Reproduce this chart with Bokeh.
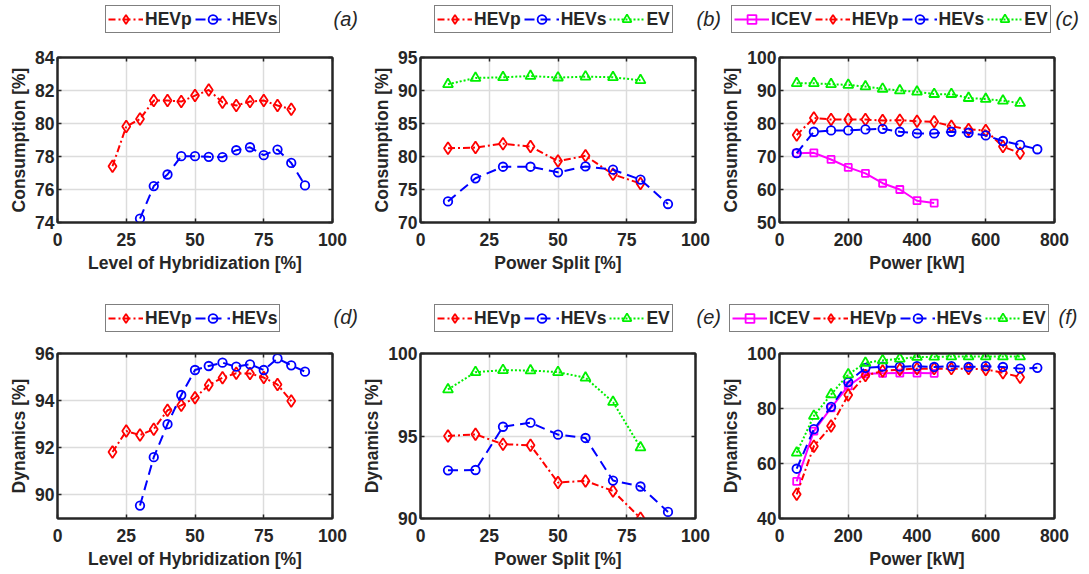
from bokeh.plotting import figure
from bokeh.models import Legend, LegendItem, Label, FixedTicker, Range1d, LinearAxis
from bokeh.layouts import row, column
from bokeh.embed import file_html
from bokeh.resources import INLINE

# ---------------- data ----------------
lh_x_hevp = [20, 25, 30, 35, 40, 45, 50, 55, 60, 65, 70, 75, 80, 85]
lh_x_hevs = [30, 35, 40, 45, 50, 55, 60, 65, 70, 75, 80, 85, 90]
ps_x_hevp = [10, 20, 30, 40, 50, 60, 70, 80]
ps_x_hevs = [10, 20, 30, 40, 50, 60, 70, 80, 90]
ps_x_ev = [10, 20, 30, 40, 50, 60, 70, 80]
pw_x_icev = [50, 100, 150, 200, 250, 300, 350, 400, 450]
pw_x_hevp = [50, 100, 150, 200, 250, 300, 350, 400, 450, 500, 550, 600, 650, 700]
pw_x_hevs = [50, 100, 150, 200, 250, 300, 350, 400, 450, 500, 550, 600, 650, 700, 750]
pw_x_ev = [50, 100, 150, 200, 250, 300, 350, 400, 450, 500, 550, 600, 650, 700]

cons_lh_hevp = [77.41, 79.82, 80.27, 81.39, 81.39, 81.33, 81.69, 82.03, 81.29, 81.09, 81.33, 81.39, 81.09, 80.87]
cons_lh_hevs = [74.24, 76.21, 76.91, 78.02, 78.02, 77.98, 77.96, 78.38, 78.56, 78.08, 78.42, 77.61, 76.25]
cons_ps_hevp = [81.25, 81.35, 81.95, 81.5, 79.3, 80.1, 77.3, 75.9]
cons_ps_hevs = [73.2, 76.7, 78.45, 78.45, 77.6, 78.5, 78.0, 76.5, 72.8]
cons_ps_ev = [90.95, 91.9, 92.0, 92.2, 91.95, 92.1, 92.0, 91.55]
cons_pw_icev = [71.0, 71.1, 69.1, 66.7, 64.9, 61.9, 60.0, 56.6, 55.9]
cons_pw_hevp = [76.5, 81.7, 81.2, 81.2, 81.2, 80.9, 81.0, 80.7, 80.5, 79.2, 78.2, 77.9, 73.0, 71.0]
cons_pw_hevs = [71.0, 77.5, 77.9, 77.9, 78.2, 78.4, 77.5, 77.0, 77.0, 77.5, 77.2, 76.4, 74.7, 73.5, 72.2]
cons_pw_ev = [92.2, 92.2, 91.9, 91.7, 91.2, 90.5, 90.0, 89.6, 88.9, 88.9, 87.7, 87.4, 86.9, 86.2]

dyn_lh_hevp = [91.82, 92.71, 92.54, 92.79, 93.59, 93.80, 94.12, 94.66, 94.97, 95.16, 95.15, 94.98, 94.68, 93.98]
dyn_lh_hevs = [89.55, 91.6, 93.0, 94.24, 95.30, 95.47, 95.61, 95.44, 95.54, 95.30, 95.79, 95.50, 95.23]
dyn_ps_hevp = [95.0, 95.1, 94.5, 94.44, 92.18, 92.28, 91.67, 90.02]
dyn_ps_hevs = [92.92, 92.94, 95.56, 95.81, 95.08, 94.88, 92.3, 91.94, 90.4]
dyn_ps_ev = [97.82, 98.87, 98.99, 98.97, 98.87, 98.53, 97.06, 94.3]
dyn_pw_icev = [53.5, 71.8, 80.2, 88.2, 92.6, 92.8, 92.9, 92.9, 92.8]
dyn_pw_hevp = [48.8, 66.3, 73.6, 84.9, 92.0, 93.6, 94.2, 94.5, 94.5, 94.5, 94.5, 94.2, 93.0, 91.4]
dyn_pw_hevs = [58.1, 72.5, 80.6, 89.6, 94.8, 95.2, 95.2, 95.4, 95.1, 95.4, 95.1, 95.4, 95.1, 94.5, 94.8]
dyn_pw_ev = [63.9, 77.3, 85.1, 92.4, 96.6, 97.5, 98.1, 98.7, 98.8, 98.9, 98.9, 98.9, 98.9, 98.9]

ticks_pct = [0, 25, 50, 75, 100]
ticks_pw = [0, 200, 400, 600, 800]

# ---------------- styles ----------------
STY = {
    "ICEV": dict(color="#ff00ff", dash="solid", marker="square", size=7),
    "HEVp": dict(color="#ff0000", dash="7 3 2 3", marker="diamond", size=12),
    "HEVs": dict(color="#0000ff", dash="10 6", marker="circle", size=8.5),
    "EV": dict(color="#00f000", dash="2 2", marker="triangle", size=10),
}
FONT = "Liberation Sans"
TXT = "#262626"
FS = "17.5px"
TOTAL_W = 1085


def add_series(p, name, xs, ys):
    s = STY[name]
    lr = p.line(xs, ys, line_color=s["color"], line_width=2, line_dash=s["dash"])
    sr = p.scatter(xs, ys, marker=s["marker"], size=s["size"], fill_color=None,
                   line_color=s["color"], line_width=1.8)
    return lr, sr


def style_axis(ax):
    ax.axis_line_color = TXT
    ax.axis_line_width = 2
    ax.major_tick_in = 4
    ax.major_tick_out = 0
    ax.minor_tick_line_color = None
    ax.major_tick_line_color = TXT
    ax.major_tick_line_width = 1.5
    ax.major_label_text_font = FONT
    ax.major_label_text_font_size = FS
    ax.major_label_text_font_style = "bold"
    ax.major_label_text_color = TXT
    ax.axis_label_text_font = FONT
    ax.axis_label_text_font_size = FS
    ax.axis_label_text_font_style = "bold"
    ax.axis_label_text_color = TXT


def panel(xr, yr, xt, yt, xlabel, ylabel, series, borders):
    l, r, t, b = borders
    p = figure(frame_width=275, frame_height=165,
               x_range=Range1d(*xr), y_range=Range1d(*yr),
               output_backend="svg", toolbar_location=None,
               min_border_left=l, min_border_right=r,
               min_border_top=t, min_border_bottom=b,
               background_fill_color="white", border_fill_color="white")
    p.outline_line_color = TXT
    p.outline_line_width = 2
    p.xaxis.ticker = FixedTicker(ticks=xt)
    p.yaxis.ticker = FixedTicker(ticks=yt)
    for ax in (p.xaxis, p.yaxis):
        style_axis(ax)
    p.xaxis.axis_label = xlabel
    p.yaxis.axis_label = ylabel
    p.xaxis.major_label_standoff = 10
    p.xaxis.axis_label_standoff = 4
    p.yaxis.major_label_standoff = 3
    p.yaxis.axis_label_standoff = 3
    # inward box ticks on the top and right sides (labels not drawn)
    top = LinearAxis(ticker=FixedTicker(ticks=xt))
    right = LinearAxis(ticker=FixedTicker(ticks=yt))
    for ax in (top, right):
        style_axis(ax)
        ax.major_label_text_color = None
        ax.major_label_text_font_size = "1px"
        ax.major_label_standoff = 0
    p.add_layout(top, "above")
    p.add_layout(right, "right")
    p.grid.grid_line_color = "#dcdcdc"
    p.grid.grid_line_width = 1.5
    for name, xs, ys in series:
        add_series(p, name, xs, ys)
    return p


def header(height, legends, tags):
    """A strip above a row of panels that holds the legend boxes and panel tags."""
    h = figure(frame_width=TOTAL_W, frame_height=height,
               x_range=Range1d(0, 1), y_range=Range1d(0, 1),
               x_axis_location=None, y_axis_location=None,
               output_backend="svg", toolbar_location=None,
               min_border=0, outline_line_color=None,
               background_fill_color="white", border_fill_color="white")
    h.grid.visible = False
    rend = {}
    for name in STY:
        # legend proxies: points lie outside the visible range
        rend[name] = add_series(h, name, [-10, -9], [-10, -9])
    for names, loc in legends:
        items = [LegendItem(label=n, renderers=list(rend[n])) for n in names]
        leg = Legend(items=items, location=loc, orientation="horizontal",
                     padding=2, spacing=3, margin=0, label_standoff=2,
                     glyph_width=35, glyph_height=22, label_height=22,
                     label_text_font=FONT, label_text_font_size=FS,
                     label_text_font_style="bold", label_text_color=TXT,
                     border_line_color="black", border_line_width=1.5,
                     background_fill_color="white", background_fill_alpha=1.0)
        h.add_layout(leg)
    for text, (x, y) in tags:
        h.add_layout(Label(x=x, y=y, x_units="screen", y_units="screen", text=text,
                           text_font=FONT, text_font_size="20px", text_font_style="italic",
                           text_color=TXT, text_baseline="middle"))
    return h


two = ["HEVp", "HEVs"]
three = ["HEVp", "HEVs", "EV"]
four = ["ICEV", "HEVp", "HEVs", "EV"]

h1 = header(48, [(two, (105, 15)), (three, (434, 15)), (four, (731, 15))],
            [("(a)", (333, 30)), ("(b)", (696, 30)), ("(c)", (1055, 30))])
h2 = header(52, [(two, (105, 13)), (three, (434, 13)), (four, (729, 13))],
            [("(d)", (333, 29)), ("(e)", (696, 29)), ("(f)", (1058, 29))])

pa = panel((0, 100), (74, 84), ticks_pct, [74, 76, 78, 80, 82, 84],
           "Level of Hybridization [%]", "Consumption [%]",
           [("HEVp", lh_x_hevp, cons_lh_hevp), ("HEVs", lh_x_hevs, cons_lh_hevs)],
           (57, 32, 9, 71))
pb = panel((0, 100), (70, 95), ticks_pct, [70, 75, 80, 85, 90, 95],
           "Power Split [%]", "Consumption [%]",
           [("HEVp", ps_x_hevp, cons_ps_hevp), ("HEVs", ps_x_hevs, cons_ps_hevs),
            ("EV", ps_x_ev, cons_ps_ev)],
           (56, 19, 9, 71))
pc = panel((0, 800), (50, 100), ticks_pw, [50, 60, 70, 80, 90, 100],
           "Power [kW]", "Consumption [%]",
           [("ICEV", pw_x_icev, cons_pw_icev), ("HEVp", pw_x_hevp, cons_pw_hevp),
            ("HEVs", pw_x_hevs, cons_pw_hevs), ("EV", pw_x_ev, cons_pw_ev)],
           (65, 31, 9, 71))
pd = panel((0, 100), (89, 96), ticks_pct, [90, 92, 94, 96],
           "Level of Hybridization [%]", "Dynamics [%]",
           [("HEVp", lh_x_hevp, dyn_lh_hevp), ("HEVs", lh_x_hevs, dyn_lh_hevs)],
           (57, 23, 8, 54))
pe = panel((0, 100), (90, 100), ticks_pct, [90, 95, 100],
           "Power Split [%]", "Dynamics [%]",
           [("HEVp", ps_x_hevp, dyn_ps_hevp), ("HEVs", ps_x_hevs, dyn_ps_hevs),
            ("EV", ps_x_ev, dyn_ps_ev)],
           (65, 19, 8, 54))
pf = panel((0, 800), (40, 100), ticks_pw, [40, 60, 80, 100],
           "Power [kW]", "Dynamics [%]",
           [("ICEV", pw_x_icev, dyn_pw_icev), ("HEVp", pw_x_hevp, dyn_pw_hevp),
            ("HEVs", pw_x_hevs, dyn_pw_hevs), ("EV", pw_x_ev, dyn_pw_ev)],
           (65, 31, 8, 54))

layout = column(h1, row(pa, pb, pc), h2, row(pd, pe, pf))
open("out.html", "w").write(file_html(layout, INLINE))
